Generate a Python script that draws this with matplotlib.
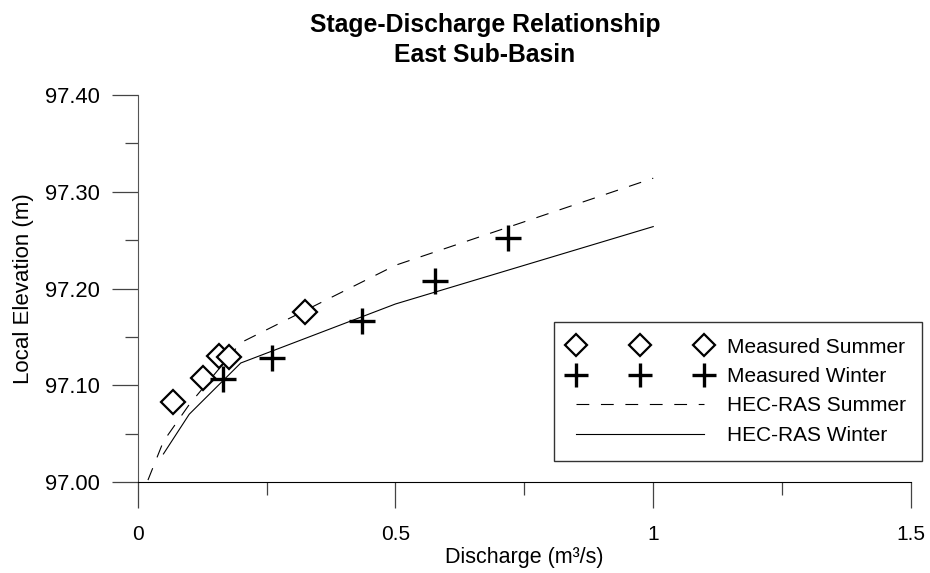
import matplotlib
matplotlib.use("Agg")
import matplotlib.pyplot as plt
from matplotlib.ticker import MultipleLocator, FixedLocator, FixedFormatter

plt.rcParams['font.family'] = ['Liberation Sans', 'DejaVu Sans']

# Measured stage-discharge points
summer_q = [0.068, 0.126, 0.158, 0.177, 0.325]
summer_h = [97.083, 97.108, 97.130, 97.129, 97.176]
winter_q = [0.165, 0.261, 0.436, 0.577, 0.719]
winter_h = [97.106, 97.128, 97.166, 97.208, 97.252]

# HEC-RAS rating curves
ras_summer_q = [0.02, 0.05, 0.1, 0.2, 0.5, 1.0]
ras_summer_h = [97.002, 97.042, 97.080, 97.144, 97.224, 97.314]
ras_winter_q = [0.05, 0.1, 0.2, 0.5, 1.0]
ras_winter_h = [97.029, 97.070, 97.123, 97.184, 97.264]

x_ticks = [0, 0.5, 1, 1.5]
x_labels = ['0', '0.5', '1', '1.5']
y_ticks = [97.0, 97.1, 97.2, 97.3, 97.4]
y_labels = ['97.00', '97.10', '97.20', '97.30', '97.40']

fig = plt.figure(figsize=(9.3, 5.73), dpi=100)
ax = fig.add_axes([0.148, 0.1588, 0.8316, 0.6754])

ax.plot(summer_q, summer_h, linestyle='none', marker='D', markersize=12.5,
        markerfacecolor='white', markeredgecolor='black', markeredgewidth=1.6,
        label='Measured Summer', zorder=3)
ax.plot(winter_q, winter_h, linestyle='none', marker='+', markersize=19,
        markeredgecolor='black', markeredgewidth=2.4,
        label='Measured Winter', zorder=4)
ax.plot(ras_summer_q, ras_summer_h, color='black', linewidth=0.8,
        dashes=(11.5, 10.5), label='HEC-RAS Summer')
ax.plot(ras_winter_q, ras_winter_h, color='black', linewidth=0.8,
        label='HEC-RAS Winter')

ax.set_xlim(0, 1.5)
ax.set_ylim(97.0, 97.4)

ax.spines['top'].set_visible(False)
ax.spines['right'].set_visible(False)
ax.spines['left'].set_color('#555555')
ax.spines['bottom'].set_color('black')
ax.spines['bottom'].set_zorder(5)

ax.xaxis.set_major_locator(FixedLocator(x_ticks))
ax.xaxis.set_major_formatter(FixedFormatter(x_labels))
ax.xaxis.set_minor_locator(MultipleLocator(0.25))
ax.yaxis.set_major_locator(FixedLocator(y_ticks))
ax.yaxis.set_major_formatter(FixedFormatter(y_labels))
ax.yaxis.set_minor_locator(MultipleLocator(0.05))

ax.tick_params(which='major', direction='out', length=18.7, width=0.9,
               color='#444444')
ax.tick_params(which='minor', direction='out', length=9.4, width=0.9,
               color='#444444')
ax.tick_params(axis='y', which='major', pad=8.5, labelsize=15.8)
ax.tick_params(axis='x', which='major', pad=12, labelsize=15)

ax.set_xlabel('Discharge (m³/s)', fontsize=15.5)
ax.xaxis.label.set_va('center')
ax.xaxis.set_label_coords(0.5, -0.194)
ax.set_ylabel('Local Elevation (m)', fontsize=16)
ax.yaxis.label.set_va('center')
ax.yaxis.set_label_coords(-0.148, 0.5)

fig.suptitle('Stage-Discharge Relationship\nEast Sub-Basin', x=0.5215,
             y=0.978, fontsize=17.8, fontweight='bold', linespacing=1.33)

leg = ax.legend(loc='upper right', bbox_to_anchor=(922 / 930, 1 - 322 / 573),
                bbox_transform=fig.transFigure, borderaxespad=0, numpoints=3,
                fontsize=15, handlelength=6.75, handletextpad=0.8,
                borderpad=0.75, labelspacing=0.5, markerscale=0.88,
                fancybox=False, framealpha=1, edgecolor='#333333')
leg.get_frame().set_linewidth(1.0)

fig.savefig('out.png', dpi=100)
